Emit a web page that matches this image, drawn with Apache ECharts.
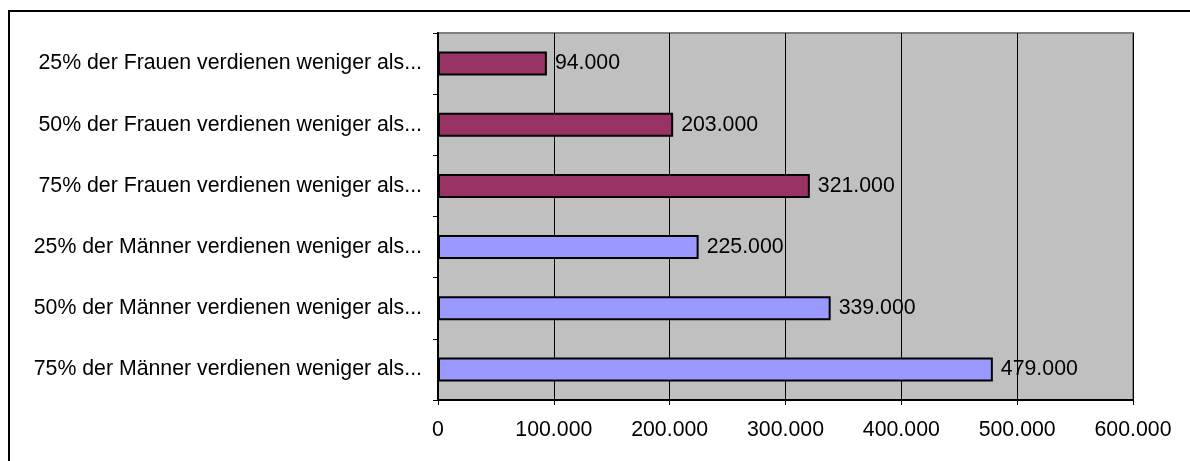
<!DOCTYPE html>
<html>
<head>
<meta charset="utf-8">
<script src="https://cdn.jsdelivr.net/npm/echarts@6/dist/echarts.min.js"></script>
<style>
html,body{margin:0;padding:0;background:#fff;}
#frame{position:absolute;left:8px;top:10px;width:1200px;height:470px;border-left:2px solid #000;border-top:2px solid #000;box-sizing:border-box;}
#chart{position:absolute;left:0;top:0;width:1190px;height:461px;}
</style>
</head>
<body>
<div id="frame"></div>
<div id="chart"></div>
<script>
const categories = [
  "25% der Frauen verdienen weniger als...",
  "50% der Frauen verdienen weniger als...",
  "75% der Frauen verdienen weniger als...",
  "25% der Männer verdienen weniger als...",
  "50% der Männer verdienen weniger als...",
  "75% der Männer verdienen weniger als..."
];
const values = [94000, 203000, 321000, 225000, 339000, 479000];
const groups = ["Frauen", "Frauen", "Frauen", "Männer", "Männer", "Männer"];
const groupColors = { "Frauen": "#993366", "Männer": "#9999FF" };
const xTicks = [0, 100000, 200000, 300000, 400000, 500000, 600000];

function fmt(v) {
  return String(Math.round(v)).replace(/\B(?=(\d{3})+(?!\d))/g, ".");
}

const FS = 21.3;
const FF = 'Liberation Sans, Arial, sans-serif';
const chart = echarts.init(document.getElementById('chart'));
chart.setOption({
  animation: false,
  textStyle: { fontFamily: FF, fontSize: FS },
  grid: {
    left: 438, top: 33, right: 57, bottom: 61,
    show: true, backgroundColor: '#C0C0C0', borderColor: '#808080', borderWidth: 2
  },
  xAxis: {
    type: 'value',
    min: xTicks[0], max: xTicks[xTicks.length - 1], interval: xTicks[1] - xTicks[0],
    axisLine: { show: true, lineStyle: { color: '#000', width: 2 } },
    axisTick: { show: true, length: 5, lineStyle: { color: '#000' } },
    axisLabel: { formatter: fmt, color: '#000', fontSize: FS, margin: 20, fontFamily: FF },
    splitLine: { show: true, lineStyle: { color: '#000', width: 1 } }
  },
  yAxis: {
    type: 'category',
    data: categories,
    inverse: true,
    axisLine: { show: true, lineStyle: { color: '#000', width: 2 } },
    axisTick: { show: true, length: 5, lineStyle: { color: '#000' } },
    axisLabel: { color: '#000', fontSize: FS, margin: 16, fontFamily: FF },
    splitLine: { show: false }
  },
  series: [{
    type: 'bar',
    barWidth: 24,
    data: values.map((v, i) => ({
      value: v,
      itemStyle: { color: groupColors[groups[i]], borderColor: '#000', borderWidth: 2 }
    })),
    label: {
      show: true, position: 'right', distance: 8,
      formatter: p => fmt(p.value),
      color: '#000', fontSize: FS, fontFamily: FF
    }
  }]
});
</script>
</body>
</html>
